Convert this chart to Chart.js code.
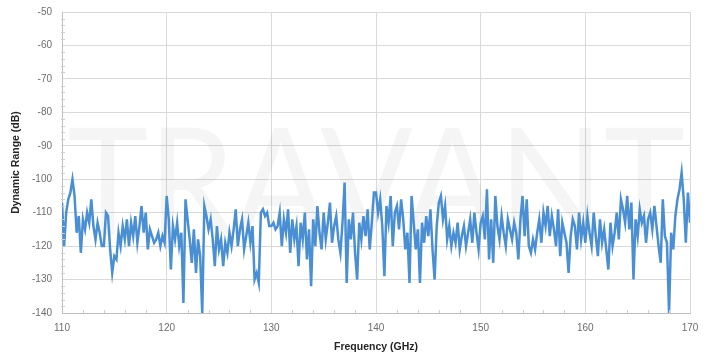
<!DOCTYPE html>
<html><head><meta charset="utf-8">
<script src="https://cdn.jsdelivr.net/npm/chart.js@4/dist/chart.umd.min.js"></script>
<style>html,body{margin:0;padding:0;background:#fff}#wrap{width:709px;height:354px;position:relative}</style>
</head><body><div id="wrap"><canvas id="c" width="709" height="354"></canvas></div>
<script>
const freqStart = 110;
const freqStep = 0.2;
const dynamicRange = [
-107,-120,-110,-106,-104,
-100,-105,-116,-111,-122,
-112,-115,-110,-113,-106,
-114,-118,-113,-116,-120,
-120,-110,-111,-121,-128,
-123,-124,-116,-120,-114,
-118,-112,-120,-113,-117,
-111,-119,-114,-108,-116,
-110,-121,-115,-117,-119,
-118,-116,-120,-117,-119,
-105,-112,-127,-114,-118,
-113,-120,-116,-137,-106,
-112,-118,-125,-115,-128,
-118,-123,-140,-108,-111,
-115,-112,-118,-126,-114,
-121,-118,-126,-119,-122,
-116,-120,-115,-109,-120,
-115,-112,-121,-117,-113,
-119,-114,-130,-128,-131,
-110,-109,-111,-110,-114,
-114,-113,-115,-114,-110,
-120,-112,-116,-109,-122,
-112,-118,-114,-126,-113,
-118,-110,-124,-115,-132,
-112,-120,-108,-116,-121,
-110,-118,-113,-107,-119,
-114,-111,-118,-122,-113,
-101,-131,-112,-118,-110,
-122,-130,-113,-118,-111,
-117,-109,-121,-113,-104,
-104,-110,-106,-114,-129,
-108,-113,-105,-120,-110,
-108,-115,-106,-112,-121,
-116,-131,-105,-113,-121,
-115,-131,-113,-119,-111,
-117,-109,-121,-130,-114,
-107,-105,-112,-108,-118,
-114,-120,-116,-119,-113,
-121,-117,-114,-120,-116,
-112,-119,-110,-116,-121,
-113,-111,-118,-103,-124,
-112,-125,-105,-114,-118,
-111,-116,-120,-112,-115,
-118,-113,-116,-124,-112,
-105,-117,-106,-120,-122,
-118,-121,-116,-112,-119,
-110,-114,-108,-117,-111,
-115,-120,-109,-123,-113,
-116,-119,-128,-117,-112,
-114,-121,-110,-118,-113,
-119,-111,-116,-120,-110,
-117,-123,-112,-119,-115,
-121,-127,-113,-120,-116,
-110,-118,-106,-109,-113,
-105,-115,-107,-130,-112,
-117,-109,-113,-111,-119,
-112,-110,-115,-108,-114,
-120,-125,-106,-117,-119,
-140,-116,-121,-111,-106,
-103,-98,-106,-119,-104,
-113
];
const xTickValues = [110, 120, 130, 140, 150, 160, 170];
const yTickValues = [-140, -130, -120, -110, -100, -90, -80, -70, -60, -50];
const xTitle = 'Frequency (GHz)';
const yTitle = 'Dynamic Range (dB)';
const watermark = 'TRAVANT';

const points = dynamicRange.map((v, i) => ({ x: +(freqStart + i * freqStep).toFixed(1), y: v }));

const extras = {
  id: 'extras',
  beforeDatasetsDraw(chart) {
    const { ctx, chartArea: a } = chart;
    ctx.save();
    ctx.fillStyle = 'rgba(0,0,0,0.04)';
    ctx.font = '400 150px Lato';
    ctx.textBaseline = 'alphabetic';
    const w = ctx.measureText(watermark).width;
    const target = a.right - a.left - 10;
    ctx.translate(a.left + 5, 235);
    ctx.scale(target / w, 1);
    ctx.fillText(watermark, 0, 0);
    ctx.restore();
  },
  afterDraw(chart) {
    const { ctx } = chart;
    const xs = chart.scales.x, ys = chart.scales.y;
    ctx.save();
    ctx.strokeStyle = '#cfcfcf';
    ctx.lineWidth = 1;
    ctx.beginPath();
    for (let v = 112; v < 170; v += 2) {
      if (v % 10 === 0) continue;
      const px = Math.round(xs.getPixelForValue(v)) + 0.5;
      ctx.moveTo(px, ys.bottom); ctx.lineTo(px, ys.bottom - 3);
    }
    for (let v = -138; v < -50; v += 2) {
      if (v % 10 === 0) continue;
      const py = Math.round(ys.getPixelForValue(v)) + 0.5;
      ctx.moveTo(xs.left - 1, py); ctx.lineTo(xs.left + 3, py);
    }
    ctx.stroke();
    ctx.restore();
  }
};

new Chart(document.getElementById('c'), {
  type: 'line',
  data: {
    datasets: [{
      data: points,
      borderColor: '#4a8fd4',
      borderWidth: 2.5,
      pointRadius: 0,
      tension: 0,
      fill: false
    }]
  },
  options: {
    responsive: false,
    animation: false,
    events: [],
    layout: { padding: { left: 0, right: 19, top: 12, bottom: 0 } },
    plugins: { legend: { display: false }, tooltip: { enabled: false } },
    scales: {
      x: {
        type: 'linear',
        min: 110, max: 170,
        afterBuildTicks(s) { s.ticks = xTickValues.map(v => ({ value: v })); },
        afterFit(s) { s.height = 41; },
        grid: { color: '#d9d9d9', lineWidth: 1, drawTicks: false },
        border: { color: '#bfbfbf' },
        ticks: { color: '#6d6d6d', font: { family: 'Liberation Sans', size: 10 }, padding: 9, maxRotation: 0 },
        title: { display: true, text: xTitle, color: '#262626', font: { family: 'Liberation Sans', size: 10.5, weight: 'bold' }, padding: { top: 0, bottom: 1 } }
      },
      y: {
        min: -140, max: -50,
        afterBuildTicks(s) { s.ticks = yTickValues.map(v => ({ value: v })); },
        afterFit(s) { s.width = 62; s.paddingTop = 0; s.paddingBottom = 0; },
        grid: { color: '#d9d9d9', lineWidth: 1, drawTicks: false },
        border: { color: '#bfbfbf' },
        ticks: { color: '#6d6d6d', font: { family: 'Liberation Sans', size: 10 }, padding: 10 },
        title: { display: true, text: yTitle, color: '#262626', font: { family: 'Liberation Sans', size: 10.5, weight: 'bold' }, padding: { top: 10, bottom: 0 } }
      }
    }
  },
  plugins: [extras]
});
</script>
</body></html>
